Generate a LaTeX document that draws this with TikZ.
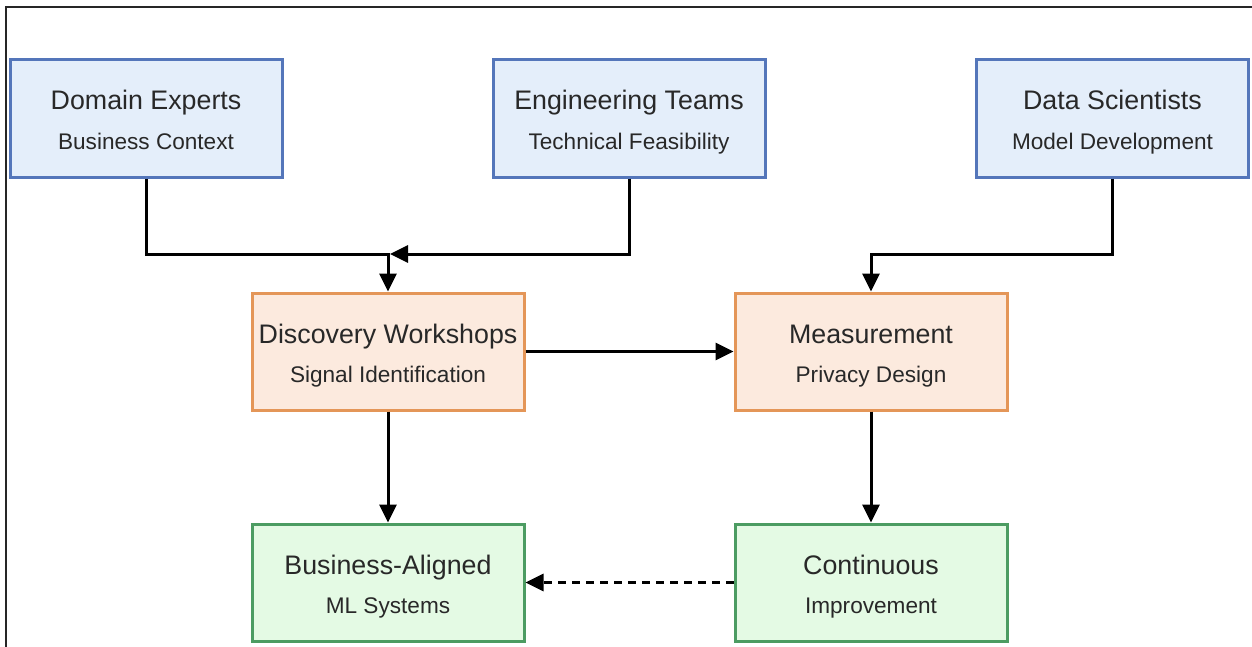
\documentclass[tikz,border=0pt]{standalone}
\usepackage{fontspec}
\setmainfont{Liberation Sans}
\usetikzlibrary{arrows.meta}
\definecolor{blueline}{RGB}{84,118,186}
\definecolor{bluefill}{RGB}{228,238,250}
\definecolor{orangeline}{RGB}{228,150,88}
\definecolor{orangefill}{RGB}{252,234,222}
\definecolor{greenline}{RGB}{76,156,98}
\definecolor{greenfill}{RGB}{228,250,228}
\definecolor{textgray}{RGB}{40,40,40}
\tikzset{
  basebox/.style={draw, line width=1.5pt, minimum width=136pt, minimum height=58.5pt, inner sep=0pt},
  bluebox/.style={basebox, draw=blueline, fill=bluefill},
  orangebox/.style={basebox, draw=orangeline, fill=orangefill},
  greenbox/.style={basebox, draw=greenline, fill=greenfill},
  titletext/.style={anchor=base, inner sep=0pt, text=textgray, font=\fontsize{13.4}{15}\selectfont},
  subtext/.style={anchor=base, inner sep=0pt, text=textgray, font=\fontsize{11.3}{13}\selectfont},
  arr/.style={line width=1.5pt, -{Triangle[length=9pt,width=8.5pt]}},
  dasharr/.style={arr, dash pattern=on 4pt off 3pt},
  frameline/.style={line width=0.6pt, draw=black!85}
}
\newcommand\flowbox[6]{%
  \node[#2] (#1) at (#3,#4) {};
  \node[titletext] (#1-t) at ([yshift=4.25pt]#1.center) {#5};
  \node[subtext] (#1-s) at ([yshift=-15.25pt]#1.center) {#6};
}
\begin{document}
\begin{tikzpicture}[x=0.5pt,y=-0.5pt]
\useasboundingbox (0,0) rectangle (1252,647);
\fill[white] (0,0) rectangle (1252,647);
\draw[frameline] (6,647) -- (6,7) -- (1252,7);

\flowbox{de}{bluebox}{146}{118.5}{Domain Experts}{Business Context}
\flowbox{et}{bluebox}{629}{118.5}{Engineering Teams}{Technical Feasibility}
\flowbox{ds}{bluebox}{1112.5}{118.5}{Data Scientists}{Model Development}
\flowbox{dw}{orangebox}{388}{351.5}{Discovery Workshops}{Signal Identification}
\flowbox{me}{orangebox}{871}{351.5}{Measurement}{Privacy Design}
\flowbox{ba}{greenbox}{388}{582.5}{Business-Aligned}{ML Systems}
\flowbox{ci}{greenbox}{871}{582.5}{Continuous}{Improvement}

\coordinate (j1) at (388,254);
\coordinate (j1r) at (390,254);
\coordinate (j2) at (871,254);

\draw[arr] (de.south) |- (j1) -- (dw.north);
\draw[arr] (et.south) |- (j1r);
\draw[arr] (ds.south) |- (j2) -- (me.north);
\draw[arr] (dw.east) -- (me.west);
\draw[arr] (dw.south) -- (ba.north);
\draw[arr] (me.south) -- (ci.north);
\draw[dasharr] (ci.west) -- (ba.east);
\end{tikzpicture}
\end{document}
